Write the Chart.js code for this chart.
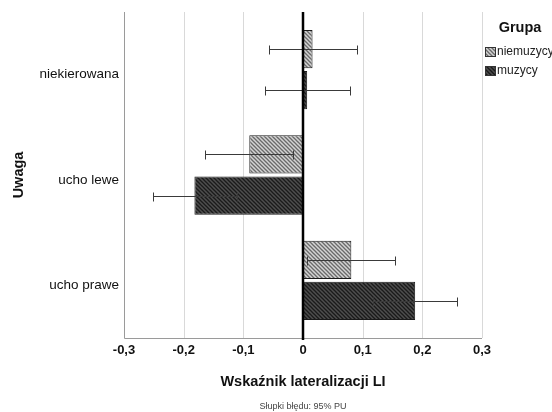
<!DOCTYPE html>
<html>
<head>
<meta charset="utf-8">
<script src="https://cdn.jsdelivr.net/npm/chart.js@4.4.0/dist/chart.umd.min.js"></script>
<style>
html,body{margin:0;padding:0;background:#fff;}
#wrap{width:552px;height:412px;position:relative;}
</style>
</head>
<body>
<div id="wrap"><canvas id="c" width="552" height="412"></canvas></div>
<script>
const categories = ['niekierowana', 'ucho lewe', 'ucho prawe'];
const seriesNames = ['niemuzycy', 'muzycy'];
const niemuzycy = [0.016, -0.090, 0.081];
const niemuzycyLow = [-0.057, -0.164, 0.006];
const niemuzycyHigh = [0.090, -0.016, 0.155];
const muzycy = [0.007, -0.182, 0.188];
const muzycyLow = [-0.064, -0.252, 0.118];
const muzycyHigh = [0.078, -0.111, 0.258];
const xTicks = [-0.3, -0.2, -0.1, 0, 0.1, 0.2, 0.3];

const FONT = '"Liberation Sans", Arial, Helvetica, sans-serif';

function makePattern(bg, fg, lw) {
  const s = 4;
  const c = document.createElement('canvas');
  c.width = s; c.height = s;
  const g = c.getContext('2d');
  g.fillStyle = bg; g.fillRect(0, 0, s, s);
  g.strokeStyle = fg; g.lineWidth = lw;
  for (const o of [-s, 0, s]) {
    g.beginPath();
    g.moveTo(o - 1, -1); g.lineTo(o + s + 1, s + 1);
    g.stroke();
  }
  return g.createPattern(c, 'repeat');
}
const patLight = makePattern('#d4d4d4', '#6a6a6a', 1.3);
const patDark = makePattern('#4e4e4e', '#1a1a1a', 1.3);

const A = { left: 124, right: 482, top: 17, bottom: 333, gridTop: 12, axisY: 338 };

const overlay = {
  id: 'overlay',
  beforeDatasetsDraw(chart) {
    const ctx = chart.ctx, x = chart.scales.x;
    ctx.save();
    ctx.lineWidth = 1;
    ctx.strokeStyle = '#d9d9d9';
    xTicks.forEach(v => {
      if (v === 0 || v === -0.3) return;
      const px = Math.round(x.getPixelForValue(v)) + 0.5;
      ctx.beginPath(); ctx.moveTo(px, A.gridTop); ctx.lineTo(px, A.axisY); ctx.stroke();
    });
    ctx.strokeStyle = '#9a9a9a';
    const lx = Math.round(x.getPixelForValue(-0.3)) + 0.5;
    const rx = Math.round(x.getPixelForValue(0.3));
    ctx.beginPath(); ctx.moveTo(lx, A.gridTop); ctx.lineTo(lx, A.axisY + 0.5); ctx.lineTo(rx, A.axisY + 0.5); ctx.stroke();
    ctx.restore();
  },
  afterDatasetsDraw(chart) {
    const ctx = chart.ctx, x = chart.scales.x;
    ctx.save();
    const lows = [niemuzycyLow, muzycyLow], highs = [niemuzycyHigh, muzycyHigh];
    ctx.strokeStyle = '#3a3a3a';
    ctx.lineWidth = 1;
    [0, 1].forEach(di => {
      const meta = chart.getDatasetMeta(di);
      meta.data.forEach((bar, i) => {
        const y = Math.round(bar.y) + 0.5;
        const x1 = Math.round(x.getPixelForValue(lows[di][i])) + 0.5;
        const x2 = Math.round(x.getPixelForValue(highs[di][i])) + 0.5;
        ctx.beginPath();
        ctx.moveTo(x1, y); ctx.lineTo(x2, y);
        ctx.moveTo(x1, y - 4); ctx.lineTo(x1, y + 5);
        ctx.moveTo(x2, y - 4); ctx.lineTo(x2, y + 5);
        ctx.stroke();
      });
    });
    const zx = x.getPixelForValue(0);
    ctx.strokeStyle = '#000';
    ctx.lineWidth = 2.5;
    ctx.beginPath(); ctx.moveTo(zx, A.gridTop); ctx.lineTo(zx, A.axisY + 2); ctx.stroke();
    ctx.restore();
  },
  afterDraw(chart) {
    const ctx = chart.ctx;
    ctx.save();
    ctx.fillStyle = '#111';
    ctx.font = 'bold 14.5px ' + FONT;
    ctx.textAlign = 'center'; ctx.textBaseline = 'middle';
    ctx.fillText('Grupa', 520, 28);
    ctx.fillText('Wskaźnik lateralizacji LI', 303, 382);
    ctx.save();
    ctx.translate(19, 175); ctx.rotate(-Math.PI / 2);
    ctx.fillText('Uwaga', 0, 0);
    ctx.restore();
    const pats = [patLight, patDark];
    ctx.font = '12px ' + FONT;
    ctx.textAlign = 'left';
    seriesNames.forEach((n, i) => {
      const y = 47 + i * 19;
      ctx.fillStyle = pats[i];
      ctx.fillRect(485, y, 11, 10);
      ctx.strokeStyle = '#333'; ctx.lineWidth = 1;
      ctx.strokeRect(485.5, y + 0.5, 10, 9);
      ctx.fillStyle = '#222';
      ctx.fillText(n, 497, y + 5);
    });
    ctx.font = '9px ' + FONT;
    ctx.fillStyle = '#444';
    ctx.textAlign = 'center';
    ctx.fillText('Słupki błędu: 95% PU', 303, 407);
    ctx.restore();
  }
};

new Chart(document.getElementById('c'), {
  type: 'bar',
  data: {
    labels: categories,
    datasets: [
      { label: seriesNames[0], data: niemuzycy, backgroundColor: patLight, borderColor: '#1a1a1a', borderWidth: 1 },
      { label: seriesNames[1], data: muzycy, backgroundColor: patDark, borderColor: '#1a1a1a', borderWidth: 1 }
    ]
  },
  options: {
    indexAxis: 'y',
    responsive: false,
    animation: false,
    devicePixelRatio: 1,
    categoryPercentage: 0.78,
    barPercentage: 0.93,
    layout: { padding: { top: A.top, right: 552 - A.right, left: 0, bottom: 0 } },
    plugins: { legend: { display: false }, tooltip: { enabled: false } },
    scales: {
      x: {
        type: 'linear', min: -0.3, max: 0.3,
        afterBuildTicks(s) { s.ticks = xTicks.map(v => ({ value: v })); },
        afterFit(s) { s.height = 412 - A.bottom; },
        grid: { display: false, drawTicks: false },
        border: { display: false },
        ticks: {
          padding: 10,
          color: '#111',
          font: { family: FONT, size: 13, weight: 'bold' },
          callback(v) { const r = Math.round(v * 10) / 10; return r === 0 ? '0' : r.toFixed(1).replace('.', ','); }
        }
      },
      y: {
        afterFit(s) { s.width = A.left; },
        grid: { display: false, drawTicks: false },
        border: { display: false },
        ticks: { padding: 5, labelOffset: 5, color: '#111', font: { family: FONT, size: 13.5 } }
      }
    }
  },
  plugins: [overlay]
});
</script>
</body>
</html>
